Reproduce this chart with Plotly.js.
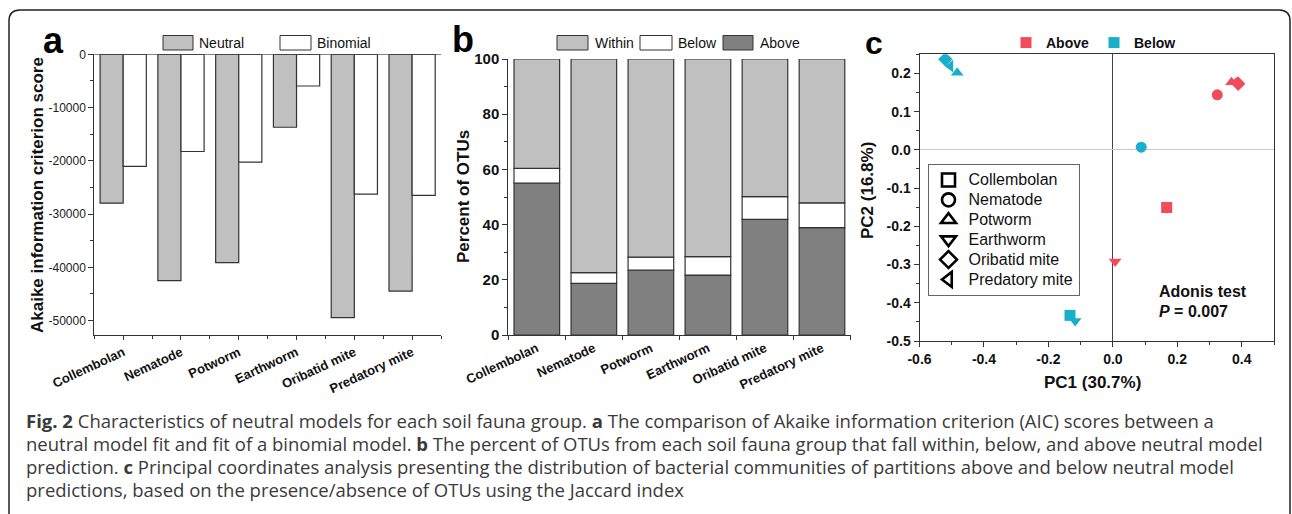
<!DOCTYPE html>
<html>
<head>
<meta charset="utf-8">
<script src="https://cdn.plot.ly/plotly-3.0.1.min.js"></script>
<style>html,body{margin:0;padding:0;background:#fff}#chart{width:1292px;height:514px}</style>
</head>
<body>
<div id="chart"></div>
<script>
// ---------- data ----------
const groups = ["Collembolan", "Nematode", "Potworm", "Earthworm", "Oribatid mite", "Predatory mite"];

// panel a: AIC scores
const neutralAIC  = [-27950, -42500, -39100, -13700, -49450, -44450];
const binomialAIC = [-21050, -18250, -20250, -5950, -26250, -26500];
const aTickVals = [0, -10000, -20000, -30000, -40000, -50000];

// panel b: percent of OTUs
const pctAbove  = [55.0, 18.7, 23.5, 21.7, 41.9, 38.9];
const pctBelow  = [5.4, 3.9, 4.7, 6.7, 8.2, 9.0];
const pctWithin = [39.6, 77.4, 71.8, 71.6, 49.9, 52.1];
const bTickVals = [0, 20, 40, 60, 80, 100];

// panel c: PCoA
const symbols = ["square", "circle", "triangle-up", "triangle-down", "diamond", "triangle-left"];
const abovePC1 = [0.167, 0.324, 0.368, 0.007, 0.389, 0.380];
const abovePC2 = [-0.151, 0.144, 0.177, -0.292, 0.173, 0.176];
const belowPC1 = [-0.133, 0.088, -0.483, -0.117, -0.520, -0.504];
const belowPC2 = [-0.433, 0.007, 0.202, -0.448, 0.237, 0.219];
const cTicksX = [-0.6, -0.4, -0.2, 0.0, 0.2, 0.4];
const cTicksY = [-0.5, -0.4, -0.3, -0.2, -0.1, 0.0, 0.1, 0.2];

const captionLines = [
  "<b>Fig. 2</b> Characteristics of neutral models for each soil fauna group. <b>a</b> The comparison of Akaike information criterion (AIC) scores between a",
  "neutral model fit and fit of a binomial model. <b>b</b> The percent of OTUs from each soil fauna group that fall within, below, and above neutral model",
  "prediction. <b>c</b> Principal coordinates analysis presenting the distribution of bacterial communities of partitions above and below neutral model",
  "predictions, based on the presence/absence of OTUs using the Jaccard index"
];

// ---------- helpers ----------
const W = 1292, H = 514;
const X = v => v / W;
const Y = v => 1 - v / H;
const DARK = "#333";
const GRAY = "#c0c0c0", DGRAY = "#808080";
const RED = "#f24b5b", CYAN = "#19afca";
const FAM = "Arial, Liberation Sans, sans-serif";
const boldAx = { family: FAM, size: 13, color: "#111", weight: "bold" };

const traces = [];
// panel a
traces.push({ type: "bar", name: "Neutral", x: groups, y: neutralAIC, xaxis: "x", yaxis: "y",
  width: 0.4, offset: -0.4, marker: { color: GRAY, line: { color: DARK, width: 1.2 } }, showlegend: false, hoverinfo: "y" });
traces.push({ type: "bar", name: "Binomial", x: groups, y: binomialAIC, xaxis: "x", yaxis: "y",
  width: 0.4, offset: 0, marker: { color: "#ffffff", line: { color: DARK, width: 1.2 } }, showlegend: false, hoverinfo: "y" });
// boundary ticks helper axis for panel a
traces.push({ type: "scatter", x: [], y: [], xaxis: "x4", yaxis: "y", showlegend: false, hoverinfo: "skip" });

// panel b (stacked via base)
const baseBelow = pctAbove.slice();
const baseWithin = pctAbove.map((v, i) => v + pctBelow[i]);
traces.push({ type: "bar", name: "Above", x: groups, y: pctAbove, base: 0, xaxis: "x2", yaxis: "y2", width: 0.8,
  marker: { color: DGRAY, line: { color: DARK, width: 1.2 } }, showlegend: false });
traces.push({ type: "bar", name: "Below", x: groups, y: pctBelow, base: baseBelow, xaxis: "x2", yaxis: "y2", width: 0.8,
  marker: { color: "#ffffff", line: { color: DARK, width: 1.2 } }, showlegend: false });
traces.push({ type: "bar", name: "Within", x: groups, y: pctWithin, base: baseWithin, xaxis: "x2", yaxis: "y2", width: 0.8,
  marker: { color: GRAY, line: { color: DARK, width: 1.2 } }, showlegend: false });

// panel c
traces.push({ type: "scatter", mode: "markers", name: "Above", x: abovePC1, y: abovePC2, text: groups, xaxis: "x3", yaxis: "y3",
  marker: { color: RED, size: 11, symbol: symbols }, legend: "legend" });
traces.push({ type: "scatter", mode: "markers", name: "Below", x: belowPC1, y: belowPC2, text: groups, xaxis: "x3", yaxis: "y3",
  marker: { color: CYAN, size: 11, symbol: symbols }, legend: "legend" });
groups.forEach((g, i) => {
  traces.push({ type: "scatter", mode: "markers", name: '<span style="font-size:16px">' + g + '</span>', x: [null], y: [null], xaxis: "x3", yaxis: "y3",
    marker: { color: "#000", size: 13, symbol: symbols[i] + "-open", line: { width: 2.6, color: "#000" } }, legend: "legend2" });
});

// ---------- annotations ----------
const ann = [];
const txt = (text, x, y, opts) => Object.assign({ text, x: X(x), y: Y(y), xref: "paper", yref: "paper", showarrow: false,
  xanchor: "center", yanchor: "middle", font: { family: FAM, size: 14, color: "#111" } }, opts || {});
// panel letters
ann.push(txt("a", 53, 41, { font: { family: FAM, size: 36, color: "#000", weight: "bold" } }));
ann.push(txt("b", 463, 40, { font: { family: FAM, size: 36, color: "#000", weight: "bold" } }));
ann.push(txt("c", 874, 43, { font: { family: FAM, size: 32, color: "#000", weight: "bold" } }));
// axis titles
ann.push(txt("Akaike information criterion score", 37, 195, { textangle: -90, font: { family: FAM, size: 17, color: "#111", weight: "bold" } }));
ann.push(txt("Percent of OTUs", 464, 197, { textangle: -90, font: { family: FAM, size: 17, color: "#111", weight: "bold" } }));
ann.push(txt("PC2 (16.8%)", 867, 191, { textangle: -90, font: { family: FAM, size: 17, color: "#111", weight: "bold" } }));
ann.push(txt("PC1 (30.7%)", 1092, 382, { font: { family: FAM, size: 17, color: "#111", weight: "bold" } }));
// Adonis
ann.push(txt("Adonis test", 1157, 291, { xanchor: "left", font: { family: FAM, size: 16, color: "#111", weight: "bold" } }));
ann.push(txt("<i>P</i> = 0.007", 1157, 311, { xanchor: "left", font: { family: FAM, size: 16, color: "#111", weight: "bold" } }));

// bar legends (panels a and b)
const shapes = [];
const legendBox = (x0, x1, fill, label, tx) => {
  shapes.push({ type: "rect", xref: "paper", yref: "paper", x0: X(x0), x1: X(x1), y0: Y(50), y1: Y(35.5),
    fillcolor: fill, line: { color: DARK, width: 1 } });
  ann.push(txt(label, tx, 43, { xanchor: "left", font: { family: FAM, size: 14, color: "#111" } }));
};
legendBox(163, 193, GRAY, traces[0].name, 197);
legendBox(280, 311, "#ffffff", traces[1].name, 315);
legendBox(557, 588, GRAY, "Within", 593);
legendBox(640, 672, "#ffffff", "Below", 676);
legendBox(723, 753, DGRAY, "Above", 758);

// caption
const capY = [420, 443, 466, 489];
captionLines.forEach((l, i) => ann.push(txt(l, 24, capY[i], { xanchor: "left",
  font: { family: "Open Sans, Noto Sans, sans-serif", size: 18.5, color: "#3a3a3a" } })));

// frame with rounded top corners
const r = 11;
shapes.push({ type: "path", xref: "paper", yref: "paper", layer: "below",
  path: `M ${X(9)},${Y(514)} L ${X(9)},${Y(10 + r)} Q ${X(9)},${Y(10)} ${X(9 + r)},${Y(10)} L ${X(1290 - r)},${Y(10)} Q ${X(1290)},${Y(10)} ${X(1290)},${Y(10 + r)} L ${X(1290)},${Y(514)}`,
  line: { color: "#222", width: 1.5 } });
// zero line at top of panel a
shapes.push({ type: "line", xref: "x domain", yref: "y", x0: 0, x1: 1, y0: 0, y1: 0, line: { color: DARK, width: 1 } });

const axBase = { showline: true, linecolor: DARK, linewidth: 1, ticks: "outside", tickcolor: DARK, tickwidth: 1,
  showgrid: false, zeroline: false, fixedrange: true };

const layout = {
  width: W, height: H, margin: { l: 0, r: 0, t: 0, b: 0 },
  paper_bgcolor: "#fff", plot_bgcolor: "rgba(0,0,0,0)",
  font: { family: FAM, color: "#111" },
  barmode: "overlay", hovermode: "closest",
  xaxis: Object.assign({}, axBase, { domain: [X(94.3), X(441)], anchor: "y", type: "category", range: [-0.5, 5.5],
    ticklen: 4, tickangle: -25, tickfont: boldAx }),
  xaxis4: { overlaying: "x", anchor: "y", side: "bottom", type: "linear", range: [-0.5, 5.5],
    tickmode: "array", tickvals: [-0.5, 0.5, 1.5, 2.5, 3.5, 4.5, 5.5], ticks: "outside", ticklen: 3, tickcolor: DARK,
    showticklabels: false, showline: false, showgrid: false, zeroline: false, fixedrange: true },
  yaxis: Object.assign({}, axBase, { domain: [Y(335), Y(54.3)], anchor: "x", range: [-52700, 0],
    tickmode: "array", tickvals: aTickVals, ticktext: aTickVals.map(v => String(v)), ticklen: 5,
    minor: { tickmode: "linear", tick0: 0, dtick: 5000, ticks: "outside", ticklen: 3, tickcolor: DARK },
    tickfont: { family: FAM, size: 12, color: "#222" } }),
  xaxis2: Object.assign({}, axBase, { domain: [X(508.3), X(850.5)], anchor: "y2", type: "category", range: [-0.5, 5.5],
    tickson: "boundaries", ticklen: 4, tickangle: -25, tickfont: boldAx }),
  yaxis2: Object.assign({}, axBase, { domain: [Y(335), Y(59)], anchor: "x2", range: [0, 100],
    tickmode: "array", tickvals: bTickVals, ticklen: 5,
    minor: { tickmode: "linear", tick0: 0, dtick: 10, ticks: "outside", ticklen: 3, tickcolor: DARK },
    tickfont: { family: FAM, size: 15, color: "#111", weight: "bold" } }),
  xaxis3: Object.assign({}, axBase, { domain: [X(919.5), X(1274)], anchor: "y3", range: [-0.6, 0.5], mirror: true,
    tickmode: "array", tickvals: cTicksX, ticktext: cTicksX.map(v => v.toFixed(1)), ticklen: 5,
    minor: { tickmode: "linear", tick0: 0, dtick: 0.1, ticks: "outside", ticklen: 3, tickcolor: DARK },
    zeroline: true, zerolinecolor: "#444", zerolinewidth: 1,
    tickfont: { family: FAM, size: 14, color: "#111", weight: "bold" } }),
  yaxis3: Object.assign({}, axBase, { domain: [Y(341), Y(54.3)], anchor: "x3", range: [-0.5, 0.25], mirror: true,
    tickmode: "array", tickvals: cTicksY, ticktext: cTicksY.map(v => v.toFixed(1)), ticklen: 5,
    minor: { tickmode: "linear", tick0: 0, dtick: 0.05, ticks: "outside", ticklen: 3, tickcolor: DARK },
    zeroline: true, zerolinecolor: "#c8c8c8", zerolinewidth: 1,
    tickfont: { family: FAM, size: 14, color: "#111", weight: "bold" } }),
  legend: { x: X(1006), y: Y(27), xanchor: "left", yanchor: "top", orientation: "h", bgcolor: "rgba(0,0,0,0)",
    font: { family: FAM, size: 14, color: "#111", weight: "bold" }, itemwidth: 30 },
  legend2: { x: X(927.5), y: Y(164), xanchor: "left", yanchor: "top", orientation: "v", bgcolor: "#fff",
    bordercolor: "#666", borderwidth: 1, font: { family: FAM, size: 13, color: "#111" },
    tracegroupgap: 0, itemwidth: 30 },
  annotations: ann, shapes: shapes
};

Plotly.newPlot("chart", traces, layout, { displayModeBar: false, staticPlot: true });
</script>
</body>
</html>
